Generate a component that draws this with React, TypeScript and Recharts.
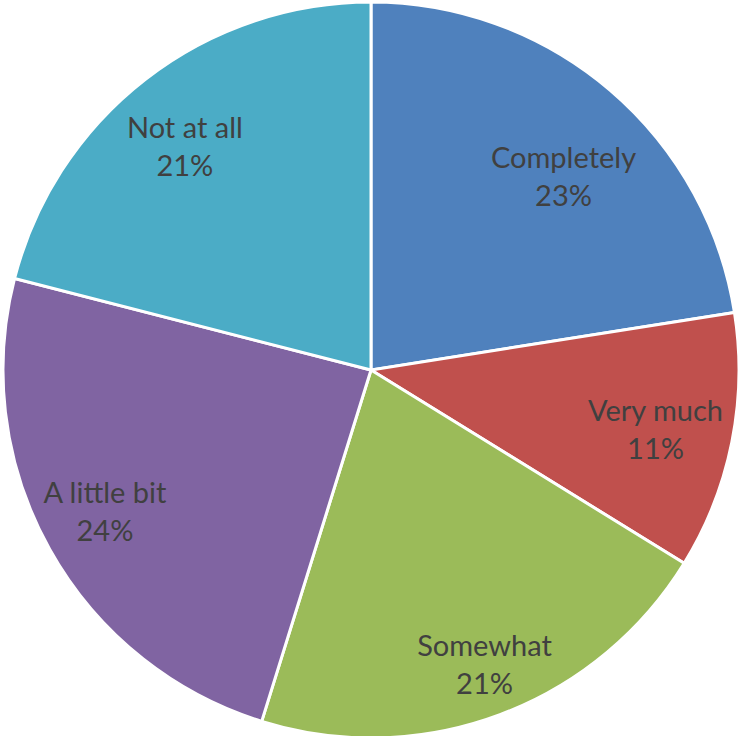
import React from 'react';
import { PieChart, Pie, Cell } from 'recharts';

const categories = ['Completely', 'Very much', 'Somewhat', 'A little bit', 'Not at all'];
const shares = [22.5, 11.3, 21.0, 24.2, 21.0];
const colors = ['#4F81BD', '#C0504D', '#9BBB59', '#8064A2', '#4BACC6'];

// label placement: fraction of the radius, and a clockwise nudge in degrees
const labelRadius = [0.74, 0.79, 0.86, 0.82, 0.79];
const labelNudge = [4.5, 0.5, -0.5, 1, -2];

const data = categories.map((name, i) => ({ name, value: shares[i] }));

const RAD = Math.PI / 180;

const renderLabel = (props: any) => {
  const { cx, cy, midAngle, outerRadius, percent, index, name } = props;
  const r = outerRadius * labelRadius[index];
  const a = midAngle - labelNudge[index];
  const x = cx + r * Math.cos(-a * RAD);
  const y = cy + r * Math.sin(-a * RAD);
  return (
    <text
      x={x}
      y={y}
      fill="#404040"
      textAnchor="middle"
      fontFamily="Lato, 'Open Sans', sans-serif"
      fontSize={29}
    >
      <tspan x={x} dy={-9}>{name}</tspan>
      <tspan x={x} dy={38}>{`${Math.round(percent * 100)}%`}</tspan>
    </text>
  );
};

const App = () => (
  <div style={{ position: 'absolute', left: 0, top: 0 }}>
    <PieChart width={741} height={736} margin={{ top: 0, right: 0, bottom: 0, left: 0 }}>
      <Pie
        data={data}
        dataKey="value"
        nameKey="name"
        cx={371}
        cy={370}
        outerRadius={368}
        startAngle={90}
        endAngle={-270}
        stroke="#ffffff"
        strokeWidth={3}
        label={renderLabel}
        labelLine={false}
        isAnimationActive={false}
      >
        {data.map((d, i) => (
          <Cell key={d.name} fill={colors[i]} />
        ))}
      </Pie>
    </PieChart>
  </div>
);

export default App;
